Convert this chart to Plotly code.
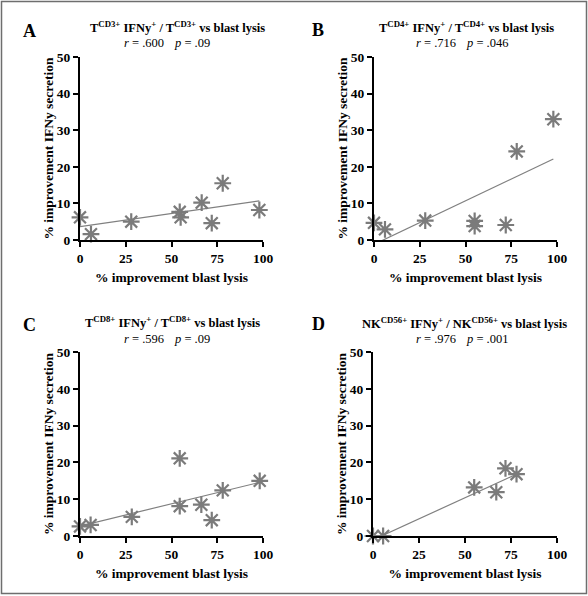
import plotly.graph_objects as go

# ---------------- data ----------------
lysis_A = [0, 6, 28, 54.5, 55, 66.5, 72, 78, 98]
ifng_A = [6.2, 1.6, 5.0, 7.7, 6.2, 10.2, 4.6, 15.5, 8.2]

lysis_B = [0, 6, 28, 55, 55, 72, 78, 98]
ifng_B = [4.7, 2.9, 5.3, 5.2, 3.8, 4.1, 24.2, 33.0]

lysis_C = [0, 5.8, 28.3, 54.5, 54.5, 66.3, 72, 78, 98.2]
ifng_C = [2.6, 3.0, 5.2, 21.1, 8.1, 8.5, 4.3, 12.4, 15.0]

lysis_D = [0, 5.5, 55, 67, 72, 78]
ifng_D = [0, 0, 13.2, 11.9, 18.4, 16.8]

# fitted regression lines (intercept, slope)
fit_A = (3.65, 0.072)
fit_B = (-1.2, 0.238)
fit_C = (2.7, 0.121)
fit_D = (-1.06, 0.229)

letters = ["A", "B", "C", "D"]
titles = [
    "T<sup>CD3+</sup> IFNy<sup>+</sup> / T<sup>CD3+</sup> vs blast lysis",
    "T<sup>CD4+</sup> IFNy<sup>+</sup> / T<sup>CD4+</sup> vs blast lysis",
    "T<sup>CD8+</sup> IFNy<sup>+</sup> / T<sup>CD8+</sup> vs blast lysis",
    "NK<sup>CD56+</sup> IFNy<sup>+</sup> / NK<sup>CD56+</sup> vs blast lysis",
]
r_vals = [".600", ".716", ".596", ".976"]
p_vals = [".09", ".046", ".09", ".001"]

x_ticks = [0, 25, 50, 75, 100]
y_ticks = [0, 10, 20, 30, 40, 50]
x_title = "% improvement blast lysis"
y_title = "% improvement IFNy secretion"

# ---------------- layout helpers ----------------
W, H = 588, 596
FONT = "Liberation Serif"
GRAY = "#7b7b7b"

def px_x(v):
    return v / W

def px_y(v):
    return 1 - v / H

# pixel boxes of the four plot areas: (left, right, top, bottom)
boxes = [(80, 263, 57, 240), (374, 557, 57, 240), (80, 263, 352, 536), (373, 557, 352, 536)]
title_pos = [(177, 27), (466, 27), (172, 322), (464, 323)]
r_pos = [(144, 43), (436, 43), (144, 339), (436, 339)]
p_pos = [(192, 43), (487, 43), (192, 339), (487, 339)]
letter_pos = [(29, 31), (318, 30), (29, 325), (318, 324)]

panels = [
    (lysis_A, ifng_A, fit_A),
    (lysis_B, ifng_B, fit_B),
    (lysis_C, ifng_C, fit_C),
    (lysis_D, ifng_D, fit_D),
]

fig = go.Figure()
annotations = []

def note(text, x, y, size, xanchor="center"):
    return dict(text=text, x=px_x(x), y=px_y(y), xref="paper", yref="paper", showarrow=False,
                xanchor=xanchor, yanchor="middle", font=dict(family=FONT, size=size, color="black"))

for i, (xs, ys, fit) in enumerate(panels):
    n = "" if i == 0 else str(i + 1)
    xa, ya = "x" + n, "y" + n
    b0, b1 = fit
    lx = [min(xs), max(xs)]
    ly = [b0 + b1 * v for v in lx]
    fig.add_trace(go.Scatter(x=lx, y=ly, mode="lines", xaxis=xa, yaxis=ya,
                             line=dict(color="#808080", width=1.2), showlegend=False,
                             hoverinfo="skip"))
    fig.add_trace(go.Scatter(x=xs, y=ys, mode="markers", xaxis=xa, yaxis=ya,
                             cliponaxis=False, showlegend=False,
                             marker=dict(symbol="asterisk-open", size=14, color=GRAY,
                                         line=dict(color=GRAY, width=2.2))))
    l, r, t, bt = boxes[i]
    axis_common = dict(showgrid=False, zeroline=False, showline=True, linecolor="black",
                       linewidth=2, ticks="outside", ticklen=5, tickwidth=2, tickcolor="black",
                       automargin=False,
                       tickfont=dict(family=FONT, size=13.5, color="black", weight="bold"),
                       title_font=dict(family=FONT, size=13.5, color="black", weight="bold"))
    fig.layout["xaxis" + n] = dict(domain=[px_x(l), px_x(r)], range=[0, 100], tickvals=x_ticks,
                                   anchor=ya, title=dict(text=x_title, standoff=7), **axis_common)
    fig.layout["yaxis" + n] = dict(domain=[px_y(bt), px_y(t)], range=[0, 50], tickvals=y_ticks,
                                   anchor=xa, title=dict(text=y_title, standoff=0), **axis_common)
    tx, ty = title_pos[i]
    annotations.append(note("<b>" + titles[i] + "</b>", tx, ty, 12.5))
    rx, ry = r_pos[i]
    annotations.append(note("<i>r</i> = " + r_vals[i], rx, ry, 12.5))
    qx, qy = p_pos[i]
    annotations.append(note("<i>p</i> = " + p_vals[i], qx, qy, 12.5))
    lx_, ly_ = letter_pos[i]
    annotations.append(note("<b>" + letters[i] + "</b>", lx_, ly_, 18))

fig.update_layout(
    width=W, height=H,
    margin=dict(l=0, r=0, t=0, b=0, pad=0, autoexpand=False),
    paper_bgcolor="white", plot_bgcolor="white",
    font=dict(family=FONT),
    annotations=annotations,
    shapes=[dict(type="rect", xref="paper", yref="paper", x0=px_x(1.5), x1=px_x(586.5),
                 y0=px_y(593.5), y1=px_y(1.5), line=dict(color="#6e6e6e", width=1.5))],
)

post = (
    "document.documentElement.style.margin='0';"
    "document.documentElement.style.overflow='hidden';"
    "document.body.style.margin='0';"
    "document.body.style.overflow='hidden';"
)

fig.write_html("out.html", config={"displayModeBar": False}, post_script=post)
